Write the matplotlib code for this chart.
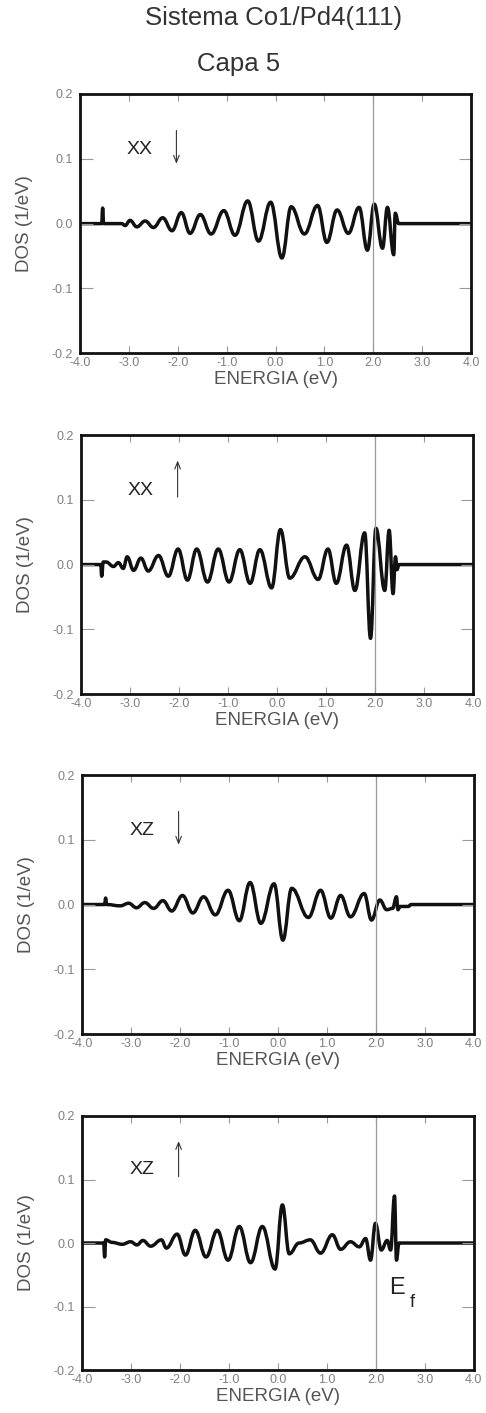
import matplotlib
matplotlib.use("Agg")
import matplotlib.pyplot as plt
from matplotlib.path import Path
from matplotlib.patches import PathPatch

plt.rcParams['font.family'] = ['Liberation Sans', 'DejaVu Sans']

# energies (eV) and DOS (1/eV) at the extrema of each curve
e_xx_down = [-4.0, -3.56, -3.54, -3.52, -3.15, -3.08, -2.98, -2.84, -2.67, -2.50, -2.31, -2.12,
             -1.93, -1.75, -1.54, -1.32, -1.06, -0.83, -0.57, -0.35, -0.10, 0.13, 0.32, 0.59,
             0.86, 1.05, 1.26, 1.49, 1.71, 1.88, 2.02, 2.19, 2.29, 2.42, 2.45, 2.52, 4.0]
dos_xx_down = [0, 0, 0.024, 0, 0, -0.003, 0.005, -0.005, 0.004, -0.006, 0.009, -0.011,
               0.017, -0.015, 0.014, -0.016, 0.020, -0.018, 0.035, -0.027, 0.033, -0.053, 0.026, -0.016,
               0.028, -0.029, 0.021, -0.015, 0.025, -0.041, 0.030, -0.038, 0.025, -0.048, 0.016, 0.0, 0]

e_xx_up = [-4.0, -3.60, -3.58, -3.55, -3.49, -3.34, -3.24, -3.14, -3.06, -2.93, -2.78, -2.63,
           -2.42, -2.22, -2.02, -1.83, -1.64, -1.42, -1.20, -0.98, -0.76, -0.55, -0.35, -0.11,
           0.07, 0.26, 0.57, 0.84, 1.04, 1.21, 1.42, 1.59, 1.79, 1.91, 2.02, 2.20, 2.29, 2.37,
           2.42, 2.45, 2.49, 4.0]
dos_xx_up = [0, 0, -0.018, 0.004, 0.004, -0.003, 0.003, -0.006, 0.012, -0.009, 0.010, -0.010,
             0.014, -0.018, 0.024, -0.024, 0.024, -0.027, 0.024, -0.027, 0.023, -0.029, 0.023, -0.036,
             0.054, -0.021, 0.012, -0.023, 0.024, -0.029, 0.030, -0.040, 0.049, -0.114, 0.056, -0.040,
             0.053, -0.045, 0.012, -0.008, 0, 0]

e_xz_down = [-4.0, -3.54, -3.52, -3.50, -3.22, -3.05, -2.89, -2.72, -2.54, -2.35, -2.17, -1.95,
             -1.74, -1.52, -1.28, -1.02, -0.79, -0.57, -0.35, -0.08, 0.10, 0.28, 0.62, 0.87,
             1.08, 1.28, 1.48, 1.76, 1.91, 2.08, 2.22, 2.34, 2.42, 2.45, 2.49, 2.66, 2.72, 4.0]
dos_xz_down = [0, 0, 0.010, 0, -0.002, 0.002, -0.005, 0.003, -0.006, 0.006, -0.010, 0.014,
               -0.013, 0.012, -0.016, 0.022, -0.025, 0.034, -0.029, 0.032, -0.055, 0.025, -0.020, 0.022,
               -0.021, 0.014, -0.019, 0.017, -0.024, 0.007, -0.008, -0.006, 0.012, -0.008, -0.003, -0.003, 0, 0]

e_xz_up = [-4.0, -3.56, -3.54, -3.52, -3.39, -3.18, -3.01, -2.88, -2.76, -2.60, -2.38, -2.28,
           -2.06, -1.89, -1.69, -1.47, -1.24, -1.02, -0.79, -0.56, -0.32, -0.06, 0.09, 0.23,
           0.43, 0.66, 0.87, 1.11, 1.28, 1.48, 1.66, 1.79, 1.89, 1.99, 2.11, 2.23, 2.30, 2.38,
           2.42, 2.47, 4.0]
dos_xz_up = [0, 0, -0.022, 0.005, 0.001, -0.002, 0.002, -0.003, 0.004, -0.005, 0.005, -0.008,
             0.014, -0.019, 0.020, -0.022, 0.020, -0.027, 0.026, -0.031, 0.026, -0.041, 0.060, -0.017,
             0.0, 0.005, -0.016, 0.013, -0.010, 0.002, -0.006, 0.007, -0.027, 0.031, -0.011, 0.004,
             -0.011, 0.074, -0.027, 0, 0]

labels = ['XX', 'XX', 'XZ', 'XZ']
spin_up = [False, True, False, True]
x_ticks = [-4.0, -3.0, -2.0, -1.0, 0.0, 1.0, 2.0, 3.0, 4.0]
y_ticks = [-0.2, -0.1, 0.0, 0.1, 0.2]
e_fermi = 2.0

curves = [(e_xx_down, dos_xx_down), (e_xx_up, dos_xx_up),
          (e_xz_down, dos_xz_down), (e_xz_up, dos_xz_up)]

# axes boxes [left, bottom, width, height] in figure fraction
boxes = [[0.165, 0.750, 0.804, 0.1835],
         [0.167, 0.5088, 0.806, 0.1833],
         [0.169, 0.2682, 0.806, 0.1833],
         [0.169, 0.0304, 0.806, 0.1798]]


def smooth_path(xs, ys):
    # bezier segments with flat tangents at each extremum
    verts = [(xs[0], ys[0])]
    codes = [Path.MOVETO]
    for i in range(1, len(xs)):
        dx = xs[i] - xs[i - 1]
        verts += [(xs[i - 1] + 0.4 * dx, ys[i - 1]), (xs[i] - 0.4 * dx, ys[i]), (xs[i], ys[i])]
        codes += [Path.CURVE4] * 3
    return Path(verts, codes)


fig = plt.figure(figsize=(4.86, 14.13), dpi=100)
fig.text(0.562, 0.987, 'Sistema Co1/Pd4(111)', ha='center', va='center', fontsize=18.5, color='#333333')
fig.text(0.49, 0.955, 'Capa 5', ha='center', va='center', fontsize=18.5, color='#333333')

for i in range(4):
    ax = fig.add_axes(boxes[i])
    e, d = curves[i]
    ax.add_patch(PathPatch(smooth_path(e, d), fill=False, lw=2.5, color='#111111',
                           capstyle='round', joinstyle='round'))
    ax.axvline(e_fermi, color='#999999', lw=0.9)
    ax.set_xlim(-4.0, 4.0)
    ax.set_ylim(-0.2, 0.2)
    ax.set_xticks(x_ticks)
    ax.set_yticks(y_ticks)
    ax.set_xticklabels(['%.1f' % v for v in x_ticks])
    ax.set_yticklabels(['%.1f' % v for v in y_ticks])
    ax.tick_params(axis='x', direction='in', top=True, length=5, width=0.8, color='#999999',
                   labelsize=9, labelcolor='#808080', pad=3)
    ax.tick_params(axis='y', direction='in', right=True, length=9, width=0.8, color='#999999',
                   labelsize=9, labelcolor='#808080', pad=5)
    for s in ax.spines.values():
        s.set_linewidth(2.0)
        s.set_color('#111111')
    ax.set_xlabel('ENERGIA (eV)', fontsize=13.5, color='#555555')
    ax.set_ylabel('DOS (1/eV)', fontsize=13.5, color='#555555')
    ax.xaxis.set_label_coords(0.5, -0.07)
    ax.yaxis.set_label_coords(-0.12, 0.5)

    ax.text(-2.78, 0.115, labels[i], ha='center', va='center', fontsize=14, color='#222222')
    if spin_up[i]:
        ax.annotate('', xy=(-2.03, 0.165), xytext=(-2.03, 0.1),
                    arrowprops=dict(arrowstyle='->,head_length=0.5,head_width=0.2', lw=0.8, color='#333333'))
    else:
        ax.annotate('', xy=(-2.03, 0.088), xytext=(-2.03, 0.148),
                    arrowprops=dict(arrowstyle='->,head_length=0.5,head_width=0.2', lw=0.8, color='#333333'))
    if i == 3:
        ax.text(2.43, -0.071, 'E', ha='center', va='center', fontsize=17, color='#222222')
        ax.text(2.74, -0.094, 'f', ha='center', va='center', fontsize=13, color='#222222')

fig.savefig('out.png', dpi=100)
